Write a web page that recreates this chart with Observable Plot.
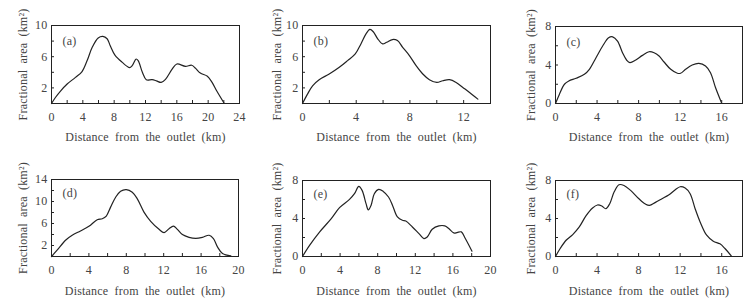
<!DOCTYPE html>
<html><head><meta charset="utf-8">
<script src="https://cdn.jsdelivr.net/npm/d3@7"></script>
<script src="https://cdn.jsdelivr.net/npm/@observablehq/plot@0.6"></script>
<style>
body{margin:0;background:#fff;}
#wrap{position:relative;width:751px;height:302px;overflow:hidden;background:#fff;}
#wrap svg{position:absolute;}
</style></head><body><div id="wrap"></div>
<script>
const xLabel = "Distance from the outlet (km)";
const yLabel = "Fractional area (km²)";
const panelNames = ["(a)","(b)","(c)","(d)","(e)","(f)"];

const distA = [0,0.5,1.15,2,3.06,3.9,4.55,5.2,5.96,6.55,7.1,7.5,8.1,9.0,9.96,10.3,10.8,11.06,11.6,12.1,12.85,13.4,14,14.55,15.4,16.0,17.1,17.9,18.4,19.0,19.9,20.5,21.1,22];
const areaA = [0,0.77,1.6,2.5,3.35,4.1,5.5,7.2,8.4,8.6,8.3,7.4,6.2,5.3,4.6,4.85,5.7,5.5,4.0,3.05,3.05,2.9,2.7,3.1,4.4,5.06,4.76,4.9,4.5,3.9,3.5,2.7,1.6,0.1];
const distB = [0,0.37,0.75,1.24,1.99,2.74,3.36,3.93,4.35,4.73,5.02,5.27,5.6,5.97,6.27,6.7,7.07,7.46,7.96,8.46,8.96,9.45,10.0,10.45,10.95,11.44,11.94,12.44,13.06];
const areaB = [0,1.2,2.27,3.05,3.78,4.64,5.5,6.35,7.64,8.93,9.5,9.2,8.3,7.64,7.85,8.2,8.07,7.2,6.14,4.85,3.78,3.05,2.7,2.92,3.05,2.7,2.06,1.42,0.56];
const distC = [0,0.38,0.86,1.28,1.98,2.78,3.26,3.9,4.54,5.11,5.5,5.97,6.45,6.84,7.16,7.73,8.37,9.0,9.49,9.97,10.45,11.09,11.73,12.04,12.52,13.16,13.8,14.44,14.92,15.4,15.97];
const areaC = [0,0.97,2.0,2.34,2.62,3.03,3.55,4.76,5.97,6.83,6.93,6.48,5.28,4.52,4.24,4.52,5.0,5.38,5.28,4.93,4.31,3.55,3.14,3.14,3.55,4.0,4.17,3.9,3.2,1.66,0.1];
const distD = [0,0.6,1.5,2.21,3.1,4.0,4.89,5.43,5.86,6.32,6.86,7.39,8.0,8.64,9.18,9.89,10.61,11.5,12.04,12.57,13.04,13.46,14.0,14.71,15.43,16.14,16.86,17.32,17.75,18.29,19.18];
const areaD = [0,1.14,2.95,3.86,4.64,5.48,6.69,6.87,7.35,8.98,10.78,11.87,12.17,11.69,10.48,8.07,6.39,4.94,4.34,5.06,5.54,4.94,3.98,3.49,3.31,3.49,3.86,3.25,1.75,0.54,0.12];
const distE = [0,0.77,1.83,3.06,3.94,5.0,5.53,5.99,6.34,6.76,7.0,7.29,7.64,8.1,8.59,9.15,9.58,10.1,10.63,10.99,11.69,12.39,12.92,13.27,13.8,14.51,15.14,15.56,16.09,16.44,16.9,17.32,18.03];
const areaE = [0,1.19,2.59,3.99,5.14,6.01,6.61,7.38,6.96,5.56,4.9,5.38,6.61,7.06,6.85,6.26,5.38,4.16,3.81,3.74,3.11,2.41,1.89,2.06,2.87,3.22,3.22,2.94,2.48,2.52,2.59,1.89,0.56];
const distF = [0,0.45,1.02,1.66,2.29,2.93,3.57,4.04,4.46,4.84,5.22,5.64,6.11,6.59,7.23,8.03,8.66,9.04,9.62,10.25,10.89,11.53,12.0,12.48,12.96,13.44,13.92,14.55,15.19,15.83,16.31,16.94];
const areaF = [0,0.84,1.71,2.31,3.11,4.27,5.1,5.42,5.31,5.03,5.56,6.78,7.55,7.48,6.96,6.08,5.52,5.38,5.7,6.08,6.47,7.03,7.34,7.2,6.61,5.03,3.64,2.24,1.61,1.33,0.84,0.03];

const xDomains = [[0,24],[0,14],[0,18],[0,20],[0,20],[0,18]];
const yDomains = [[0,10],[0,10],[0,8],[0,14],[0,8],[0,8]];
const xTickLabels = [[0,4,8,12,16,20,24],[0,4,8,12],[0,4,8,12,16],[0,4,8,12,16,20],[0,4,8,12,16,20],[0,4,8,12,16]];
const xTickMarks = [[2,4,6,8,10,12,14,16,18,20,22],[2,4,6,8,10,12],[2,4,6,8,10,12,14,16],[2,4,6,8,10,12,14,16,18],[2,4,6,8,10,12,14,16,18],[2,4,6,8,10,12,14,16]];
const yTickLabels = [[2,6,10],[2,6,10],[0,4,8],[2,6,10,14],[0,4,8],[0,4,8]];
const yTickMarks = [[2,4,6,8],[2,4,6,8],[2,4,6],[2,4,6,8,10,12],[2,4,6],[2,4,6]];

const dists = [distA,distB,distC,distD,distE,distF];
const areas = [areaA,areaB,areaC,areaD,areaE,areaF];

// layout (positions only)
const layout = [
  {left:0,   top:0,   width:250, height:150, mL:51, mR:11, mT:25, mB:47, yl:-28, nl:16, xl:34},
  {left:250, top:0,   width:250, height:150, mL:52, mR:10, mT:25, mB:47, yl:-25, nl:16, xl:34},
  {left:500, top:0,   width:251, height:150, mL:55, mR:9,  mT:26, mB:47, yl:-24, nl:16, xl:34},
  {left:0,   top:150, width:250, height:152, mL:51, mR:12, mT:29, mB:46, yl:-28, nl:14, xl:35},
  {left:250, top:150, width:250, height:152, mL:52, mR:10, mT:30, mB:46, yl:-25, nl:14, xl:35},
  {left:500, top:150, width:251, height:152, mL:55, mR:9,  mT:30, mB:46, yl:-24, nl:14, xl:35}
];

const wrap = document.getElementById("wrap");
const ink = "#222";
const txt = "#444";
const font = "'Liberation Serif', 'DejaVu Serif', serif";

for (let i = 0; i < 6; i++) {
  const L = layout[i];
  const data = dists[i].map((d, j) => ({d, a: areas[i][j]}));
  const svg = Plot.plot({
    width: L.width, height: L.height,
    marginLeft: L.mL, marginRight: L.mR, marginTop: L.mT, marginBottom: L.mB,
    style: {fontFamily: font, fontSize: "12px", color: txt, background: "transparent", overflow: "visible"},
    x: {domain: xDomains[i], label: null},
    y: {domain: yDomains[i], label: null},
    marks: [
      Plot.axisX(xTickLabels[i], {tickSize: 0, tickPadding: 9, fill: txt, fontSize: 12, label: null}),
      Plot.axisX(xTickMarks[i], {tickSize: -3, text: null, stroke: ink, label: null}),
      Plot.axisY(yTickLabels[i], {tickSize: 0, tickPadding: 4, fill: txt, fontSize: 12, label: null}),
      Plot.axisY(yTickMarks[i], {tickSize: -3, text: null, stroke: ink, label: null}),
      Plot.line(data, {x: "d", y: "a", curve: "catmull-rom", stroke: ink, strokeWidth: 1.2}),
      Plot.frame({stroke: ink, strokeWidth: 1}),
      Plot.text([panelNames[i]], {text: d => d, frameAnchor: "top-left", dx: 11, dy: L.nl, textAnchor: "start", lineAnchor: "middle", fontSize: 12, fill: txt}),
      Plot.text([xLabel], {text: d => d, frameAnchor: "bottom", dy: L.xl, textAnchor: "middle", lineAnchor: "middle", fontSize: 12, fill: txt}),
      Plot.text([yLabel], {text: d => d, frameAnchor: "left", dx: L.yl, rotate: -90, textAnchor: "middle", lineAnchor: "middle", fontSize: 12, fill: txt})
    ]
  });
  svg.style.left = L.left + "px";
  svg.style.top = L.top + "px";
  svg.querySelectorAll("text").forEach(t => { t.style.letterSpacing = "0.2px"; t.style.wordSpacing = "3px"; });
  wrap.appendChild(svg);
}
</script></body></html>
